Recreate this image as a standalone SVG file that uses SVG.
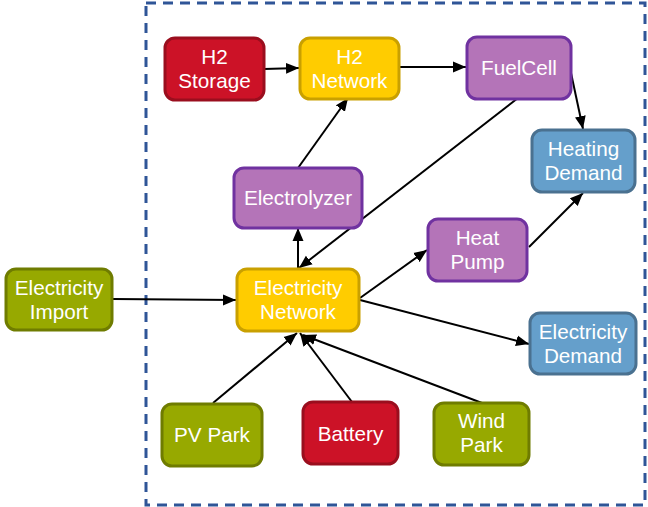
<svg xmlns="http://www.w3.org/2000/svg" width="648" height="507" viewBox="0 0 648 507">
<style>
.n rect{stroke-width:3}
.red rect{fill:#CC1227;stroke:#9A0E1E}
.yel rect{fill:#FFCC00;stroke:#C9A000}
.pur rect{fill:#B474B8;stroke:#7032A0}
.blu rect{fill:#659FCB;stroke:#4A7190}
.grn rect{fill:#97A900;stroke:#6F7C00}
.n text{fill:#fff;font-family:"Liberation Sans",Arial,sans-serif;font-size:20.7px;text-anchor:middle}
.c line{stroke:#000;stroke-width:2;marker-end:url(#ah)}
</style>
<defs>
<marker id="ah" markerUnits="userSpaceOnUse" markerWidth="14" markerHeight="12" refX="13" refY="6" orient="auto">
<path d="M0,0.5 L13,6 L0,11.5 z" fill="#000"/>
</marker>
</defs>
<rect x="146" y="3" width="499" height="502" fill="none" stroke="#2F5597" stroke-width="3" stroke-dasharray="10,7"/>
<g class="c">
<line x1="264" y1="69" x2="299" y2="68"/>
<line x1="399" y1="67" x2="466" y2="67"/>
<line x1="571" y1="73" x2="583" y2="129"/>
<line x1="298" y1="168" x2="348" y2="98"/>
<line x1="518" y1="98" x2="299" y2="268"/>
<line x1="298" y1="268" x2="298" y2="228"/>
<line x1="113" y1="299" x2="236" y2="300"/>
<line x1="360" y1="298" x2="427" y2="250"/>
<line x1="529" y1="247" x2="583" y2="193"/>
<line x1="360" y1="300" x2="529" y2="344"/>
<line x1="213" y1="403" x2="297" y2="333"/>
<line x1="352" y1="402" x2="300" y2="333"/>
<line x1="482" y1="403" x2="303" y2="335"/>
</g>
<g id="h2storage" class="n red"><rect x="165" y="38" width="99" height="62" rx="10"/><text x="214.5" y="64">H2</text><text x="214.5" y="88">Storage</text></g>
<g id="h2network" class="n yel"><rect x="300" y="38" width="99" height="61" rx="10"/><text x="349.5" y="64">H2</text><text x="349.5" y="88">Network</text></g>
<g id="fuelcell" class="n pur"><rect x="467" y="37" width="104" height="62" rx="10"/><text x="519" y="75">FuelCell</text></g>
<g id="heatingdemand" class="n blu"><rect x="532" y="130" width="103" height="62" rx="10"/><text x="583.5" y="156">Heating</text><text x="583.5" y="180">Demand</text></g>
<g id="electrolyzer" class="n pur"><rect x="234" y="168" width="128" height="60" rx="10"/><text x="298" y="205">Electrolyzer</text></g>
<g id="heatpump" class="n pur"><rect x="428" y="219" width="99" height="62" rx="10"/><text x="477.5" y="245">Heat</text><text x="477.5" y="269">Pump</text></g>
<g id="elecimport" class="n grn"><rect x="6" y="269" width="106" height="61" rx="10"/><text x="59" y="295">Electricity</text><text x="59" y="319">Import</text></g>
<g id="elecnetwork" class="n yel"><rect x="237" y="269" width="122" height="62" rx="10"/><text x="298" y="295">Electricity</text><text x="298" y="319">Network</text></g>
<g id="elecdemand" class="n blu"><rect x="530" y="313" width="106" height="61" rx="10"/><text x="583" y="339">Electricity</text><text x="583" y="363">Demand</text></g>
<g id="pvpark" class="n grn"><rect x="162" y="404" width="100" height="62" rx="10"/><text x="212" y="442">PV Park</text></g>
<g id="battery" class="n red"><rect x="303" y="402" width="95" height="62" rx="10"/><text x="350.5" y="441">Battery</text></g>
<g id="windpark" class="n grn"><rect x="434" y="403" width="95" height="62" rx="10"/><text x="481.5" y="428">Wind</text><text x="481.5" y="452">Park</text></g>
</svg>
